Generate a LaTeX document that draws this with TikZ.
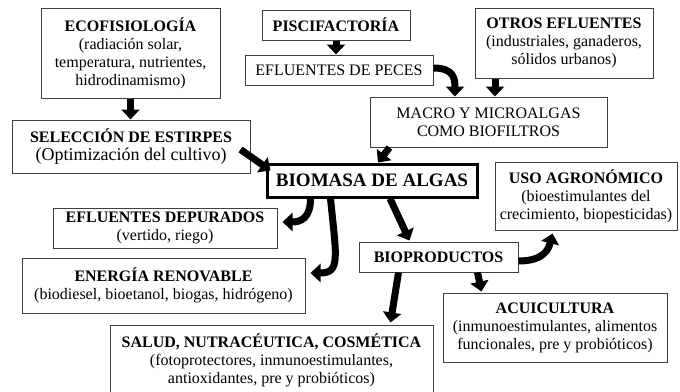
\documentclass[tikz,border=0pt]{standalone}
\usepackage{fontspec}
\setmainfont{Liberation Serif}
\usetikzlibrary{arrows.meta}

\begin{document}
\begin{tikzpicture}[x=1pt,y=1pt,
    caja/.style={draw=black!75, line width=1pt, fill=white, align=center, inner sep=0pt,
      font=\fontsize{16}{18}\selectfont},
    flecha/.style={line width=7pt, -{Triangle[width=18pt,length=10pt]}}]
      \useasboundingbox (0,0) rectangle (680,-391);

      % cajas
      \node[caja, minimum width=179pt, minimum height=90pt] (eco) at (130.5,-53)
        {\textbf{ECOFISIOLOGÍA}\\(radiación solar,\\temperatura, nutrientes,\\hidrodinamismo)};
      \node[caja, minimum width=238pt, minimum height=53pt] (selec) at (131,-146.5)
        {\textbf{SELECCIÓN DE ESTIRPES}\\{\fontsize{18}{18}\selectfont(Optimización del cultivo)}};
      \node[caja, minimum width=148pt, minimum height=30pt] (pisci) at (336,-25)
        {\textbf{PISCIFACTORÍA}};
      \node[caja, minimum width=188pt, minimum height=30pt] (peces) at (339,-70)
        {EFLUENTES DE PECES};
      \node[caja, minimum width=178pt, minimum height=70pt] (otros) at (564,-43)
        {\textbf{OTROS EFLUENTES}\\(industriales, ganaderos,\\sólidos urbanos)};
      \node[caja, minimum width=237pt, minimum height=50pt] (macro) at (488.5,-122)
        {MACRO Y MICROALGAS\\COMO BIOFILTROS};
      \node[caja, line width=3pt, draw=black, minimum width=210pt, minimum height=33pt,
        font=\fontsize{19}{21}\selectfont\bfseries] (biomasa) at (372,-180.5)
        {BIOMASA DE ALGAS};
      \node[caja, minimum width=182pt, minimum height=68pt] (uso) at (586,-196)
        {\textbf{USO AGRONÓMICO}\\(bioestimulantes del\\crecimiento, biopesticidas)};
      \node[caja, minimum width=159pt, minimum height=30pt] (biopro) at (438.5,-257)
        {\textbf{BIOPRODUCTOS}};
      \node[caja, minimum width=224pt, minimum height=40pt] (depur) at (165,-228)
        {\textbf{EFLUENTES DEPURADOS}\\(vertido, riego)};
      \node[caja, minimum width=283pt, minimum height=55pt] (energia) at (163.5,-285.5)
        {\textbf{ENERGÍA RENOVABLE}\\(biodiesel, bioetanol, biogas, hidrógeno)};
      \node[caja, minimum width=323pt, minimum height=71pt] (salud) at (271.5,-360.5)
        {\textbf{SALUD, NUTRACÉUTICA, COSMÉTICA}\\(fotoprotectores, inmunoestimulantes,\\antioxidantes, pre y probióticos)};
      \node[caja, minimum width=224pt, minimum height=69pt] (acui) at (555,-327.5)
        {\textbf{ACUICULTURA}\\(inmunoestimulantes, alimentos\\funcionales, pre y probióticos)};

      % flechas
      \draw[flecha] (eco.south) -- (eco.south |- selec.north);
      \draw[flecha] (pisci.south) -- (pisci.south |- peces.north);
      \draw[flecha] ([yshift=2pt]peces.east) .. controls +(20,0) and +(0,18) .. ([xshift=-33.5pt]macro.north);
      \draw[flecha] ([xshift=-69pt]otros.south) -- ([xshift=-69pt]otros.south |- macro.north);
      \draw[flecha] ([xshift=-10pt,yshift=-3pt]selec.east) -- ([xshift=5pt,yshift=-8pt]biomasa.north west);
      \draw[flecha] ([xshift=20pt]macro.south west) -- ([xshift=6pt]biomasa.north);
      \draw[flecha] ([xshift=45pt]biomasa.south west) .. controls +(0,-20) and +(18,0) .. ([xshift=5pt,yshift=6pt]depur.east);
      \draw[flecha] ([xshift=65pt]biomasa.south west) .. controls +(6,-60) and +(30,0) .. ([xshift=5pt,yshift=12.5pt]energia.east);
      \draw[flecha] ([xshift=18pt]biomasa.south) -- ([xshift=-29pt,yshift=1pt]biopro.north);
      \draw[flecha] ([yshift=-4pt]biopro.east) .. controls +(25,0) and +(-4,-16) .. ([xshift=58pt,yshift=-3pt]uso.south west);
      \draw[flecha] ([xshift=-40pt]biopro.south) -- ([xshift=-43pt,yshift=2pt]salud.north east);
      \draw[flecha] ([xshift=39pt]biopro.south) -- ([xshift=39pt,yshift=1pt]acui.north west);

    \end{tikzpicture}
\end{document}
